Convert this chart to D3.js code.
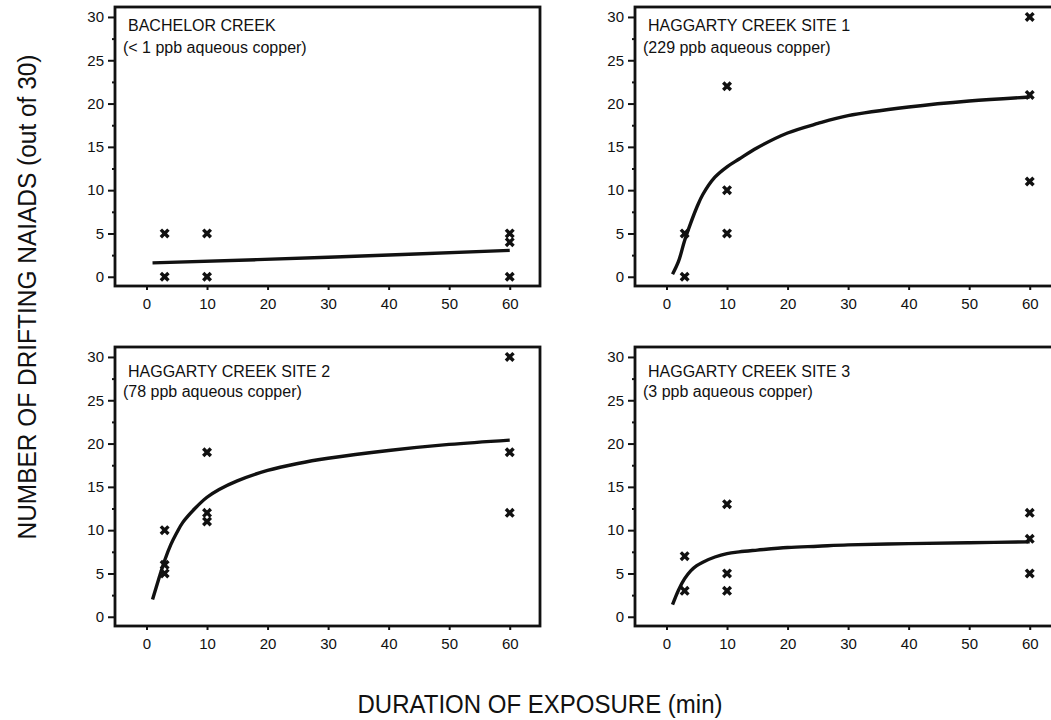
<!DOCTYPE html>
<html>
<head>
<meta charset="utf-8">
<script src="https://cdn.jsdelivr.net/npm/d3@7"></script>
<style>
  body { margin: 0; background: #fff; }
  text { font-family: "Liberation Sans", Arial, Helvetica, sans-serif; fill: #111; }
</style>
</head>
<body>
<script>
// tick values
var xTicks = [0, 10, 20, 30, 40, 50, 60];
var yTicks = [0, 5, 10, 15, 20, 25, 30];
var yMinorTicks = [2.5, 7.5, 12.5, 17.5, 22.5, 27.5];

var panelTitles = ['BACHELOR CREEK', 'HAGGARTY CREEK SITE 1', 'HAGGARTY CREEK SITE 2', 'HAGGARTY CREEK SITE 3'];
var panelSubtitles = ['(< 1 ppb aqueous copper)', '(229 ppb aqueous copper)', '(78 ppb aqueous copper)', '(3 ppb aqueous copper)'];

// observed drifting naiads [minutes, count]
var bachelorPts = [[3, 0], [3, 5], [10, 0], [10, 5], [60, 0], [60, 4], [60, 5]];
var site1Pts = [[3, 0], [3, 5], [10, 5], [10, 10], [10, 22], [60, 11], [60, 21], [60, 30]];
var site2Pts = [[3, 5], [3, 6], [3, 10], [10, 11], [10, 12], [10, 19], [60, 12], [60, 19], [60, 30]];
var site3Pts = [[3, 3], [3, 7], [10, 3], [10, 5], [10, 13], [60, 5], [60, 9], [60, 12]];

// fitted curves
var bachelorFitX = [1, 30, 60];
var bachelorFitY = [1.6, 2.25, 3.05];
var fitX = [1, 2, 3, 4, 5, 6, 8, 10, 12, 15, 20, 25, 30, 40, 50, 60];
var site1FitY = [0.3, 1.8, 4.2, 6.2, 8.0, 9.5, 11.5, 12.7, 13.6, 14.9, 16.6, 17.7, 18.6, 19.6, 20.3, 20.75];
var site2FitY = [2.0, 4.3, 6.5, 8.3, 9.7, 10.9, 12.5, 13.8, 14.7, 15.7, 16.9, 17.7, 18.3, 19.2, 19.9, 20.4];
var site3FitY = [1.4, 3.1, 4.4, 5.3, 5.9, 6.3, 6.9, 7.3, 7.5, 7.7, 8.0, 8.15, 8.3, 8.45, 8.55, 8.65];

var panels = [
    { title: panelTitles[0], sub: panelSubtitles[0], pts: bachelorPts, fx: bachelorFitX, fy: bachelorFitY, col: 0, row: 0, subGap: 22 },
    { title: panelTitles[1], sub: panelSubtitles[1], pts: site1Pts, fx: fitX, fy: site1FitY, col: 1, row: 0, subGap: 22 },
    { title: panelTitles[2], sub: panelSubtitles[2], pts: site2Pts, fx: fitX, fy: site2FitY, col: 0, row: 1, subGap: 20 },
    { title: panelTitles[3], sub: panelSubtitles[3], pts: site3Pts, fx: fitX, fy: site3FitY, col: 1, row: 1, subGap: 20 }
];

var svg = d3.select('body').append('svg')
    .attr('width', 1051)
    .attr('height', 720);

var colLeft = [115, 635],
    rowTop = [7, 347],
    pw = 425,
    ph = 279;

var x = d3.scaleLinear().domain([-5.2, 65]).range([0, pw]);
var y = d3.scaleLinear().domain([-0.95, 31.15]).range([ph - 1, 0]);

var line = d3.line()
    .x(function(d){ return x(d[0]); })
    .y(function(d){ return y(d[1]); })
    .curve(d3.curveCatmullRom.alpha(0.5));

panels.forEach(function(p){
    var g = svg.append('g')
        .attr('transform', 'translate(' + colLeft[p.col] + ',' + rowTop[p.row] + ')');

    // minor ticks on y
    g.append('g')
        .call(d3.axisLeft(y).tickValues(yMinorTicks).tickSize(3).tickFormat(''))
        .call(function(a){ a.select('.domain').remove(); })
        .selectAll('line').attr('stroke', '#111').attr('stroke-width', 2);

    // major y ticks
    g.append('g')
        .call(d3.axisLeft(y).tickValues(yTicks).tickSize(7).tickPadding(4))
        .call(function(a){ a.select('.domain').remove(); })
        .call(function(a){
            a.selectAll('line').attr('stroke', '#111').attr('stroke-width', 2);
            a.selectAll('text').style('font-size', '15px').attr('fill', '#111');
        });

    // x ticks
    g.append('g')
        .attr('transform', 'translate(0,' + ph + ')')
        .call(d3.axisBottom(x).tickValues(xTicks).tickSize(4).tickPadding(8))
        .call(function(a){ a.select('.domain').remove(); })
        .call(function(a){
            a.selectAll('line').attr('stroke', '#111').attr('stroke-width', 2);
            a.selectAll('text').style('font-size', '15px').attr('fill', '#111');
        });

    // frame
    g.append('rect')
        .attr('width', pw)
        .attr('height', ph)
        .attr('fill', 'none')
        .attr('stroke', '#111')
        .attr('stroke-width', 2.8);

    // fitted curve
    g.append('path')
        .datum(d3.zip(p.fx, p.fy))
        .attr('d', line)
        .attr('fill', 'none')
        .attr('stroke', '#111')
        .attr('stroke-width', 3.4);

    // observations as bold crosses
    var pts = g.selectAll('.pt')
        .data(p.pts)
        .enter()
        .append('g')
        .attr('class', 'pt')
        .attr('transform', function(d){ return 'translate(' + x(d[0]) + ',' + y(d[1]) + ')'; });
    pts.append('path')
        .attr('d', 'M-3.8,-3.8L3.8,3.8M-3.8,3.8L3.8,-3.8')
        .attr('stroke', '#111')
        .attr('stroke-width', 3.4)
        .attr('fill', 'none');
    pts.append('rect')
        .attr('x', -2.2).attr('y', -2.2)
        .attr('width', 4.4).attr('height', 4.4)
        .attr('fill', '#111');

    // labels
    g.append('text')
        .attr('x', 13)
        .attr('y', p.row === 0 ? 24 : 30)
        .style('font-size', '16px')
        .text(p.title);
    g.append('text')
        .attr('x', 8)
        .attr('y', (p.row === 0 ? 24 : 30) + p.subGap)
        .style('font-size', '16px')
        .text(p.sub);
});

// axis titles
svg.append('text')
    .attr('transform', 'translate(36,297) rotate(-90)')
    .attr('text-anchor', 'middle')
    .attr('textLength', 485)
    .attr('lengthAdjust', 'spacingAndGlyphs')
    .style('font-size', '26px')
    .text('NUMBER OF DRIFTING NAIADS (out of 30)');

svg.append('text')
    .attr('x', 540)
    .attr('y', 713)
    .attr('text-anchor', 'middle')
    .attr('textLength', 365)
    .attr('lengthAdjust', 'spacingAndGlyphs')
    .style('font-size', '25px')
    .text('DURATION OF EXPOSURE (min)');
</script>
</body>
</html>
